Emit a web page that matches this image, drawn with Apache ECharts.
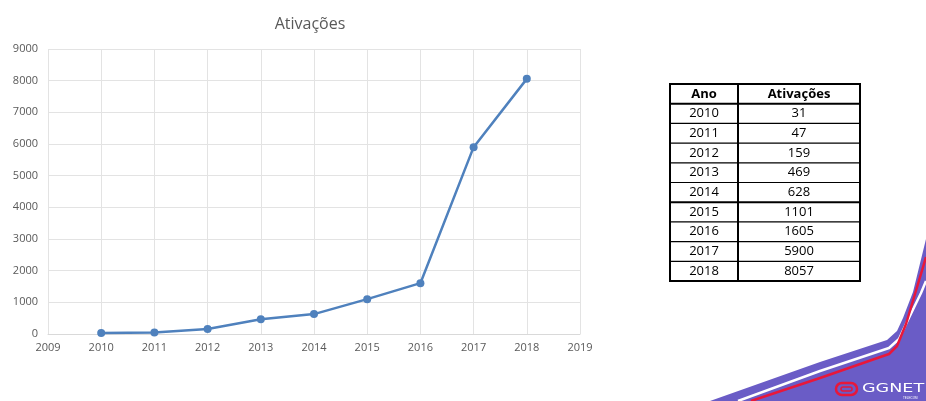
<!DOCTYPE html>
<html><head><meta charset="utf-8">
<script src="https://cdn.jsdelivr.net/npm/echarts@6/dist/echarts.min.js"></script>
<style>html,body{margin:0;padding:0;background:#fff;}#c{width:926px;height:401px;}</style>
</head><body><div id="c"></div>
<script>
const years = [2010, 2011, 2012, 2013, 2014, 2015, 2016, 2017, 2018];
const activations = [31, 47, 159, 469, 628, 1101, 1605, 5900, 8057];
const tableHeader = ['Ano', 'Ativações'];
const titleText = 'Ativações';

const chart = echarts.init(document.getElementById('c'));

// table graphic built from the arrays
const tL = 670, tR = 860, tC = 738, tTop = 84, rowH = 19.7;
const g = [];
g.push({type:'rect', shape:{x:tL, y:tTop, width:tR-tL, height:rowH*(years.length+1)}, style:{fill:'#fff', stroke:'#000', lineWidth:2}, z:10});
g.push({type:'line', shape:{x1:tC, y1:tTop, x2:tC, y2:tTop+rowH*(years.length+1)}, style:{stroke:'#000', lineWidth:2}, z:11});
for (let i = 1; i <= years.length; i++) {
  const y = tTop + rowH * i;
  g.push({type:'line', shape:{x1:tL, y1:y, x2:tR, y2:y}, style:{stroke:'#000', lineWidth:(i===1||i===6)?2:1.2}, z:11});
}
const cellFont = '13px "Open Sans", "Noto Sans", sans-serif';
g.push({type:'text', x:(tL+tC)/2, y:tTop+rowH/2, style:{text:tableHeader[0], font:'bold '+cellFont, fill:'#000', align:'center', verticalAlign:'middle'}, z:12});
g.push({type:'text', x:(tC+tR)/2, y:tTop+rowH/2, style:{text:tableHeader[1], font:'bold '+cellFont, fill:'#000', align:'center', verticalAlign:'middle'}, z:12});
years.forEach((yr, i) => {
  const cy = tTop + rowH * (i + 1.5);
  g.push({type:'text', x:(tL+tC)/2, y:cy, style:{text:String(yr), font:cellFont, fill:'#000', align:'center', verticalAlign:'middle'}, z:12});
  g.push({type:'text', x:(tC+tR)/2, y:cy, style:{text:String(activations[i]), font:cellFont, fill:'#000', align:'center', verticalAlign:'middle'}, z:12});
});

// decorative corner (brand swoosh)
g.push({type:'polygon', shape:{points:[[710,401],[820,362],[887,340],[897,331],[903,318],[913,292],[926,239],[926,401]]}, style:{fill:'#6a5cc6'}, z:1});
g.push({type:'polyline', shape:{points:[[738,401],[820,371],[889,348],[899,339],[906,324],[921,293],[926,281]]}, style:{stroke:'#ffffff', lineWidth:2.5, fill:null, lineJoin:'round'}, z:2});
g.push({type:'polyline', shape:{points:[[751,401],[820,378],[889,354],[897,346],[906,324],[915,294],[926,257]]}, style:{stroke:'#e8173a', lineWidth:2.5, fill:null, lineJoin:'round'}, z:3});
g.push({type:'rect', shape:{x:836, y:383, width:21, height:12, r:6}, style:{fill:'none', stroke:'#e8173a', lineWidth:2.5}, z:4});
g.push({type:'rect', shape:{x:841, y:387, width:11, height:4, r:2}, style:{fill:'none', stroke:'#e8173a', lineWidth:1.5}, z:4});
g.push({type:'text', x:862, y:389, scaleX:1.35, scaleY:1, originX:0, originY:0, style:{text:'GGNET', font:'13px "DejaVu Sans", sans-serif', fill:'#ffffff', verticalAlign:'middle'}, z:4});
g.push({type:'text', x:903, y:398, style:{text:'TELECOM', font:'3px sans-serif', fill:'#ffffff', verticalAlign:'middle'}, z:4});

chart.setOption({
  animation:false,
  backgroundColor:'#fff',
  title:{text:titleText, left:305, top:11, textAlign:'center', textStyle:{fontFamily:'"Open Sans", "Noto Sans", sans-serif', fontSize:16, fontWeight:'normal', color:'#595959'}},
  grid:{left:48, right:346, top:49, bottom:67, containLabel:false},
  xAxis:{type:'value', min:2009, max:2019, interval:1,
    axisLine:{show:true, lineStyle:{color:'#d9d9d9'}}, axisTick:{show:false},
    axisLabel:{color:'#595959', fontSize:11, fontFamily:'"Open Sans", sans-serif', margin:8, formatter:v=>String(v)},
    splitLine:{show:true, lineStyle:{color:'#e3e3e3'}}},
  yAxis:{type:'value', min:0, max:9000, interval:1000,
    axisLine:{show:false}, axisTick:{show:false},
    axisLabel:{color:'#595959', fontSize:11, fontFamily:'"Open Sans", sans-serif', margin:10, formatter:v=>String(v)},
    splitLine:{show:true, lineStyle:{color:'#e3e3e3'}}},
  series:[{type:'line', data:years.map((y,i)=>[y, activations[i]]),
    symbol:'circle', symbolSize:8, lineStyle:{color:'#4f81bd', width:2.5}, itemStyle:{color:'#4f81bd'}}],
  graphic:g
});
</script></body></html>
